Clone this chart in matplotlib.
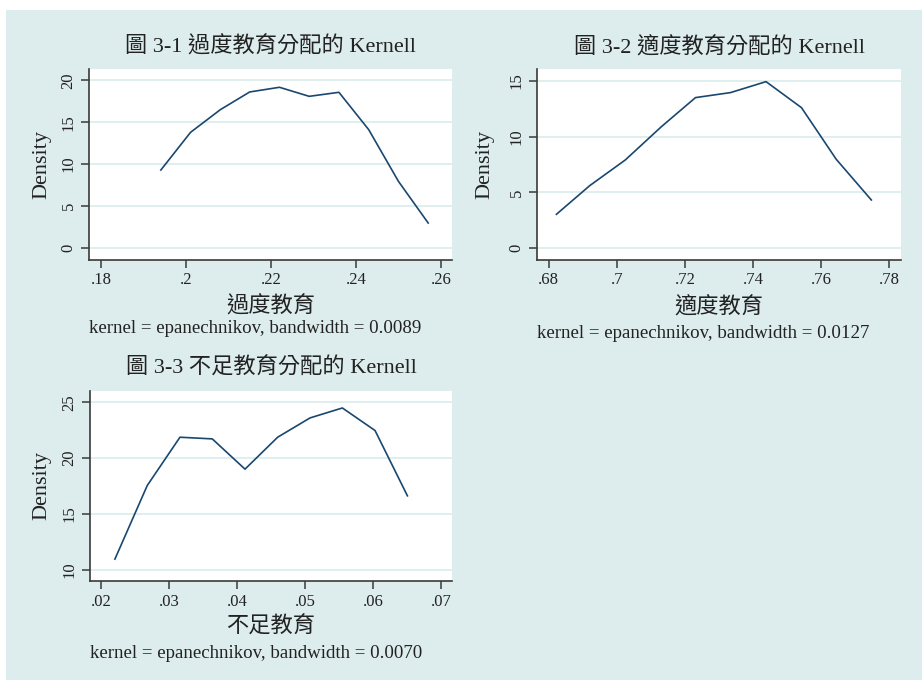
"""Kernel density panels (Stata-style combine) for over/adequate/under education."""

import matplotlib.pyplot as plt
from matplotlib.patches import Rectangle

W, H = 922, 680
BG = "#ddecec"
GRID = "#dcedee"
LINE = "#1a476f"
AXC = "#3a3a3a"

plt.rcParams["font.family"] = ["Liberation Serif", "Noto Sans CJK TC"]

# over-education
over_x = [0.1941, 0.2011, 0.2081, 0.2150, 0.2220, 0.2290, 0.2360, 0.2430, 0.2500, 0.2570]
over_y = [9.30, 13.80, 16.50, 18.61, 19.17, 18.09, 18.57, 14.12, 7.95, 2.98]
over_xticks = [0.18, 0.20, 0.22, 0.24, 0.26]
over_xlabels = [".18", ".2", ".22", ".24", ".26"]
over_yticks = [0, 5, 10, 15, 20]

# adequate education
adeq_x = [0.6823, 0.6921, 0.7025, 0.7131, 0.7231, 0.7334, 0.7438, 0.7542, 0.7644, 0.7747]
adeq_y = [3.04, 5.61, 7.90, 10.88, 13.48, 13.93, 14.91, 12.58, 7.96, 4.32]
adeq_xticks = [0.68, 0.70, 0.72, 0.74, 0.76, 0.78]
adeq_xlabels = [".68", ".7", ".72", ".74", ".76", ".78"]
adeq_yticks = [0, 5, 10, 15]

# under-education
under_x = [0.02206, 0.02681, 0.03162, 0.03637, 0.04118, 0.04598, 0.05074, 0.05549, 0.06029, 0.06505]
under_y = [10.95, 17.54, 21.87, 21.72, 19.01, 21.87, 23.60, 24.49, 22.47, 16.62]
under_xticks = [0.02, 0.03, 0.04, 0.05, 0.06, 0.07]
under_xlabels = [".02", ".03", ".04", ".05", ".06", ".07"]
under_yticks = [10, 15, 20, 25]

panels = [
    dict(x=over_x, y=over_y, xt=over_xticks, xl=over_xlabels, yt=over_yticks,
         xlim=(0.1772, 0.2626), ylim=(-1.43, 21.35),
         box=(89, 69, 452, 260), title="圖 3-1 過度教育分配的 Kernell",
         xlabel="過度教育", note="kernel = epanechnikov, bandwidth = 0.0089",
         ty=47, xly=307, ny=328, dx=42),
    dict(x=adeq_x, y=adeq_y, xt=adeq_xticks, xl=adeq_xlabels, yt=adeq_yticks,
         xlim=(0.6766, 0.7834), ylim=(-1.05, 16.04),
         box=(537, 69, 901, 260), title="圖 3-2 適度教育分配的 Kernell",
         xlabel="適度教育", note="kernel = epanechnikov, bandwidth = 0.0127",
         ty=47, xly=307, ny=333, dx=485),
    dict(x=under_x, y=under_y, xt=under_xticks, xl=under_xlabels, yt=under_yticks,
         xlim=(0.0184, 0.0716), ylim=(8.99, 26.01),
         box=(90, 391, 452, 581), title="圖 3-3 不足教育分配的 Kernell",
         xlabel="不足教育", note="kernel = epanechnikov, bandwidth = 0.0070",
         ty=368, xly=627, ny=653, dx=42),
]


def fx(px):
    return px / W


def fy(py):
    return 1 - py / H


fig = plt.figure(figsize=(W / 100, H / 100), dpi=100)
fig.patch.set_facecolor("white")
fig.patches.append(Rectangle((fx(6), 0), 1 - fx(6), fy(10), transform=fig.transFigure,
                             facecolor=BG, edgecolor="none", zorder=-10))

for p in panels:
    l, t, r, b = p["box"]
    ax = fig.add_axes([fx(l), fy(b), fx(r - l), (b - t) / H])
    ax.set_facecolor("white")
    ax.plot(p["x"], p["y"], color=LINE, lw=1.2, zorder=3)
    ax.set_xlim(*p["xlim"])
    ax.set_ylim(*p["ylim"])
    ax.set_xticks(p["xt"])
    ax.set_xticklabels(p["xl"])
    ax.set_yticks(p["yt"])
    ax.set_yticklabels([str(v) for v in p["yt"]], rotation=90, va="center")
    for v in p["yt"]:
        ax.axhline(v, color=GRID, lw=1.3, zorder=1)
    for s in ("top", "right"):
        ax.spines[s].set_visible(False)
    for s in ("left", "bottom"):
        ax.spines[s].set_color(AXC)
        ax.spines[s].set_linewidth(1.2)
    ax.tick_params(direction="out", length=6, width=1.1, color=AXC,
                   labelsize=12, labelcolor="#222222", pad=3)
    cx = fx((l + r) / 2)
    fig.text(cx, fy(p["ty"]), p["title"], ha="center", va="center",
             fontsize=16, color="#222222")
    fig.text(cx, fy(p["xly"]), p["xlabel"], ha="center", va="center",
             fontsize=16, color="#222222")
    fig.text(fx(l), fy(p["ny"]), p["note"], ha="left", va="center",
             fontsize=13.6, color="#222222")
    fig.text(fx(p["dx"]), fy((t + b) / 2), "Density", ha="center", va="center",
             rotation=90, fontsize=16, color="#222222")

fig.savefig("out.png", dpi=100)
